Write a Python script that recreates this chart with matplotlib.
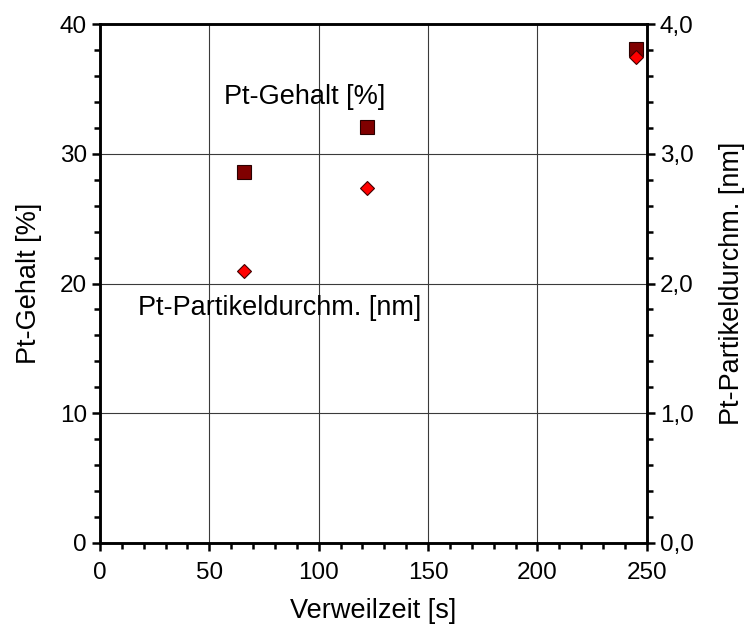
import matplotlib.pyplot as plt
from matplotlib.ticker import MultipleLocator, FuncFormatter

plt.rcParams['font.family'] = ['Liberation Sans', 'DejaVu Sans']

# residence time vs. Pt loading and particle diameter
verweilzeit = [66, 122, 245]
pt_gehalt = [28.6, 32.1, 38.1]
partikel_nm = [2.10, 2.74, 3.75]

fig = plt.figure(figsize=(7.46, 6.35), dpi=100)
ax = fig.add_axes([0.134, 0.145, 0.733, 0.817])
ax2 = ax.twinx()

ax.set_xlim(0, 250)
ax.set_ylim(0, 40)
ax2.set_ylim(0, 4)

ax.xaxis.set_major_locator(MultipleLocator(50))
ax.xaxis.set_minor_locator(MultipleLocator(10))
ax.yaxis.set_major_locator(MultipleLocator(10))
ax.yaxis.set_minor_locator(MultipleLocator(2))
ax2.yaxis.set_major_locator(MultipleLocator(1))
ax2.yaxis.set_minor_locator(MultipleLocator(0.2))
ax2.yaxis.set_major_formatter(FuncFormatter(lambda v, pos: f"{v:.1f}".replace('.', ',')))

ax.grid(True, which='major', color='#3a3a3a', linewidth=0.8)
ax.set_axisbelow(True)

for a in (ax, ax2):
    for sp in a.spines.values():
        sp.set_linewidth(1.8)
    a.tick_params(which='major', direction='out', length=6, width=1.8, labelsize=17.5)
    a.tick_params(which='minor', direction='out', length=4, width=1.8)
ax.tick_params(axis='x', pad=8)

ax.plot(verweilzeit, pt_gehalt, linestyle='none', marker='s', markersize=10.5,
        markerfacecolor='#800000', markeredgecolor='#2a0000', markeredgewidth=0.8, zorder=5)
ax2.plot(verweilzeit, partikel_nm, linestyle='none', marker='D', markersize=6.8,
         markerfacecolor='#ff0000', markeredgecolor='#400000', markeredgewidth=0.8, zorder=6)

ax.text(93.5, 34.4, 'Pt-Gehalt [%]', fontsize=19.5, ha='center', va='center')
ax.text(82, 18.1, 'Pt-Partikeldurchm. [nm]', fontsize=19.5, ha='center', va='center')

ax.set_xlabel('Verweilzeit [s]', fontsize=19.5, labelpad=10)
ax.set_ylabel('Pt-Gehalt [%]', fontsize=19.5, labelpad=13)
ax2.set_ylabel('Pt-Partikeldurchm. [nm]', fontsize=19.5, labelpad=18)

fig.savefig('out.png', dpi=100)
